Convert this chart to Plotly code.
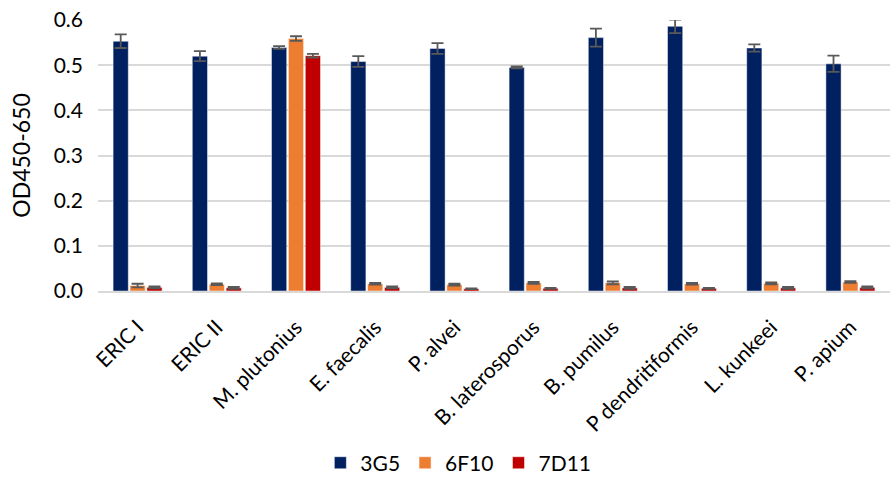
import plotly.graph_objects as go

strains = ["ERIC I", "ERIC II", "M. plutonius", "E. faecalis", "P. alvei",
           "B. laterosporus", "B. pumilus", "P dendritiformis", "L. kunkeei", "P. apium"]

od_3g5 = [0.553, 0.520, 0.539, 0.508, 0.537, 0.495, 0.561, 0.586, 0.538, 0.503]
err_3g5 = [0.015, 0.011, 0.003, 0.012, 0.012, 0.002, 0.020, 0.015, 0.008, 0.018]

od_6f10 = [0.012, 0.015, 0.559, 0.016, 0.014, 0.018, 0.018, 0.016, 0.017, 0.020]
err_6f10 = [0.004, 0.002, 0.005, 0.002, 0.002, 0.002, 0.003, 0.002, 0.002, 0.002]

od_7d11 = [0.008, 0.007, 0.521, 0.008, 0.005, 0.006, 0.007, 0.006, 0.007, 0.008]
err_7d11 = [0.002, 0.002, 0.004, 0.002, 0.001, 0.001, 0.002, 0.001, 0.002, 0.002]

series = [
    ("3G5", od_3g5, err_3g5, "#002060"),
    ("6F10", od_6f10, err_6f10, "#ED7D31"),
    ("7D11", od_7d11, err_7d11, "#C00000"),
]

font_family = "Lato, Open Sans, sans-serif"

fig = go.Figure()
for name, vals, errs, color in series:
    fig.add_trace(go.Bar(
        name=name,
        x=strains,
        y=vals,
        marker=dict(color=color, line=dict(color="rgba(255,255,255,0.6)", width=0.8)),
        error_y=dict(type="data", array=errs, visible=True,
                     color="#595959", thickness=1.8, width=6),
    ))

fig.update_layout(
    width=896, height=490,
    barmode="group",
    bargap=0.36,
    bargroupgap=0.1,
    plot_bgcolor="white",
    paper_bgcolor="white",
    margin=dict(l=98, r=6, t=17, b=199),
    font=dict(family=font_family, size=20, color="#000000"),
    showlegend=True,
    legend=dict(orientation="h", x=0.455, xanchor="center", y=-0.635, yanchor="middle",
                font=dict(size=21), itemwidth=30, traceorder="normal"),
    xaxis=dict(
        tickangle=-45,
        showgrid=False,
        showline=True,
        linecolor="#D9D9D9",
        linewidth=1.5,
        ticks="",
        ticklabelstandoff=14,
        tickfont=dict(size=21),
    ),
    yaxis=dict(
        range=[0, 0.6],
        dtick=0.1,
        tickformat=".1f",
        showgrid=True,
        gridcolor="#D9D9D9",
        gridwidth=1.5,
        zeroline=False,
        showline=False,
        ticks="",
        ticklabelstandoff=14,
        tickfont=dict(size=21),
        title=dict(text="OD450-650", font=dict(size=23), standoff=16),
    ),
)

fig.write_html("out.html")
